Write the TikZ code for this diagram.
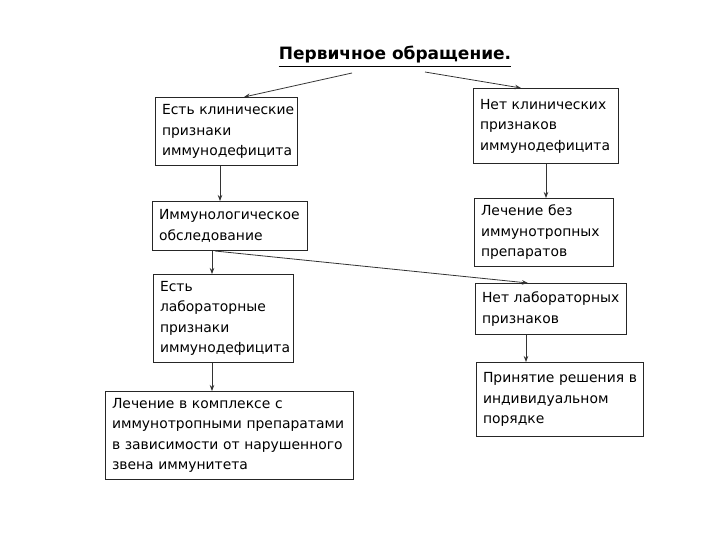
\documentclass[tikz,border=0pt]{standalone}
\usepackage{fontspec}
\setmainfont{DejaVu Sans}
\usetikzlibrary{arrows.meta}
\tikzset{
  box/.style={draw=black!85, line width=1pt, anchor=north west, align=left, inner sep=6.5pt,
    font=\fontsize{13.9}{20.5}\selectfont},
  arr/.style={draw=black!80, line width=0.8pt, -{Stealth[length=6pt,width=4.5pt]}}
}
\newcommand{\bx}[6]{\node[box, minimum width=#4pt, minimum height=#5pt, text width=\dimexpr#4pt-13pt\relax] (#1) at (#2,#3) {#6};}
\begin{document}
\begin{tikzpicture}[x=1pt,y=-1pt]
\useasboundingbox[fill=white] (0,0) rectangle (720,540);
\node[font=\bfseries\fontsize{17}{20}\selectfont, inner sep=0pt] (title) at (395,55) {Первичное обращение.};
\draw[line width=1.5pt] ([yshift=-3pt]title.south west) -- ([yshift=-3pt]title.south east);
\bx{b1}{155}{97}{142}{68}{\mbox{Есть клинические}\\признаки\\иммунодефицита}
\bx{b2}{473}{88}{145}{75}{\mbox{Нет клинических}\\признаков\\иммунодефицита}
\bx{b3}{152}{201}{155}{49}{Иммунологическое\\обследование}
\bx{b4}{474}{198}{139}{67}{Лечение без\\иммунотропных\\препаратов}
\bx{b5}{153}{274}{140}{86}{Есть\\лабораторные\\признаки\\иммунодефицита}
\bx{b6}{475}{283}{151}{51}{\mbox{Нет лабораторных}\\признаков}
\bx{b7}{105}{391}{248}{86}{Лечение в комплексе с\\\mbox{иммунотропными препаратами}\\\mbox{в зависимости от нарушенного}\\звена иммунитета}
\bx{b8}{476}{362}{167}{74}{\mbox{Принятие решения в}\\индивидуальном\\порядке}
\coordinate (t1) at (352,73);
\coordinate (t2) at (425,72);
\coordinate (e1) at ([xshift=89pt]b1.north west);
\coordinate (e2) at ([xshift=48pt]b2.north west);
\draw[arr] (t1) -- (e1);
\draw[arr] (t2) -- (e2);
\coordinate (a1) at ([xshift=65pt]b1.south west);
\draw[arr] (a1) -- (a1 |- b3.north);
\coordinate (a2) at ([xshift=73pt]b2.south west);
\draw[arr] (a2) -- (a2 |- b4.north);
\coordinate (a3) at ([xshift=60pt]b3.south west);
\draw[arr] (a3) -- (a3 |- b5.north);
\coordinate (a4) at ([xshift=63pt]b3.south west);
\coordinate (e4) at ([xshift=53pt]b6.north west);
\draw[arr] (a4) -- (e4);
\coordinate (a5) at ([xshift=59pt]b5.south west);
\draw[arr] (a5) -- (a5 |- b7.north);
\coordinate (a6) at ([xshift=51pt]b6.south west);
\draw[arr] (a6) -- (a6 |- b8.north);
\end{tikzpicture}
\end{document}
